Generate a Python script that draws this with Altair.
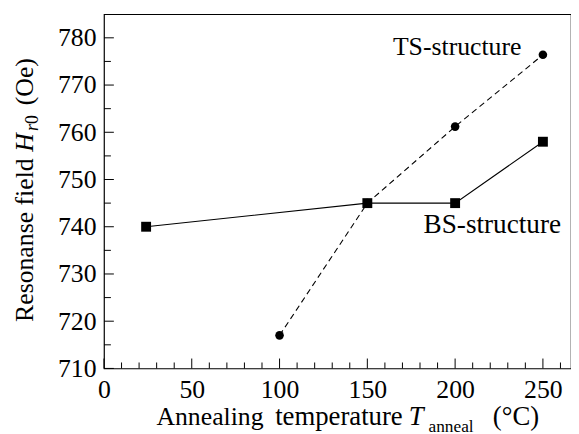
import altair as alt
import pandas as pd

# ---- data ----
ts_x = [100, 150, 200, 250]
ts_y = [717, 745, 761.2, 776.4]
bs_x = [24, 150, 200, 250]
bs_y = [740, 745, 745, 758]

x_major = [0, 50, 100, 150, 200, 250]
x_minor = [10, 20, 30, 40, 60, 70, 80, 90, 110, 120, 130, 140, 160, 170, 180, 190,
           210, 220, 230, 240, 260]
y_major = [710, 720, 730, 740, 750, 760, 770, 780]
y_minor = [715, 725, 735, 745, 755, 765, 775]

FONT = "'Liberation Serif', 'Times New Roman', 'DejaVu Serif', serif"
W, H = 472, 358

xscale = alt.Scale(domain=[0, 266], nice=False, zero=False)
yscale = alt.Scale(domain=[710, 785], nice=False, zero=False)

xaxis = alt.Axis(values=x_major, title=None, ticks=False, domain=False, grid=False,
                 labelFont=FONT, labelFontSize=26, labelColor="black", labelPadding=8,
                 labelFlush=False)
yaxis = alt.Axis(values=y_major, title=None, ticks=False, domain=False, grid=False,
                 labelFont=FONT, labelFontSize=26, labelColor="black", labelPadding=8)

ts = pd.DataFrame({"x": ts_x, "y": ts_y})
bs = pd.DataFrame({"x": bs_x, "y": bs_y})

X = alt.X("x:Q", scale=xscale, axis=xaxis)
Y = alt.Y("y:Q", scale=yscale, axis=yaxis)

ts_line = alt.Chart(ts).mark_line(color="black", strokeWidth=1.1, strokeDash=[6, 4]).encode(x=X, y=Y)
ts_pts = alt.Chart(ts).mark_circle(color="black", opacity=1, size=75).encode(x=X, y=Y)
bs_line = alt.Chart(bs).mark_line(color="black", strokeWidth=1.1).encode(x=X, y=Y)
bs_pts = alt.Chart(bs).mark_square(color="black", opacity=1, size=100).encode(x=X, y=Y)

def xticks(vals, length):
    df = pd.DataFrame({"x": vals})
    return alt.Chart(df).mark_rule(color="black", strokeWidth=1).encode(
        x=X, y=alt.value(H), y2=alt.value(H - length))

def yticks(vals, length):
    df = pd.DataFrame({"y": vals})
    return alt.Chart(df).mark_rule(color="black", strokeWidth=1).encode(
        y=Y, x=alt.value(0), x2=alt.value(length))

one = pd.DataFrame({"d": [0]})

def txt(s, x, y, size=26, style="normal", angle=0):
    return alt.Chart(one).mark_text(
        text=s, font=FONT, fontSize=size, fontStyle=style, color="black",
        align="left", baseline="alphabetic", angle=angle
    ).encode(x=alt.value(x), y=alt.value(y))

layers = [
    xticks(x_major, 10), xticks(x_minor, 6),
    yticks(y_major, 10), yticks(y_minor, 7),
    ts_line, bs_line, ts_pts, bs_pts,
    txt("TS-structure", 292, 41),
    txt("BS-structure", 323, 221, size=27.5),
    # x title
    txt("Annealing", 53, 415),
    txt("temperature", 173, 415, size=27),
    txt("T", 308, 415, size=27, style="italic"),
    txt("anneal", 328, 422, size=17.5),
    txt("(°C)", 393, 415, size=27),
    # y title (rotated)
    txt("Resonanse field", -72, 311, size=26, angle=270),
    txt("H", -72, 139, style="italic", angle=270),
    txt("r", -67, 118, size=18, style="italic", angle=270),
    txt("0", -67, 111, size=18, angle=270),
    txt("(Oe)", -72, 92, angle=270),
]

chart = alt.layer(*layers).properties(
    width=W, height=H,
    autosize=alt.AutoSizeParams(type="none"),
    padding={"left": 97, "top": 4, "right": 0, "bottom": 64},
    background="white",
).configure_view(stroke="black", strokeWidth=1.2)

chart.save("out.html", embed_options={"renderer": "svg", "actions": False})
